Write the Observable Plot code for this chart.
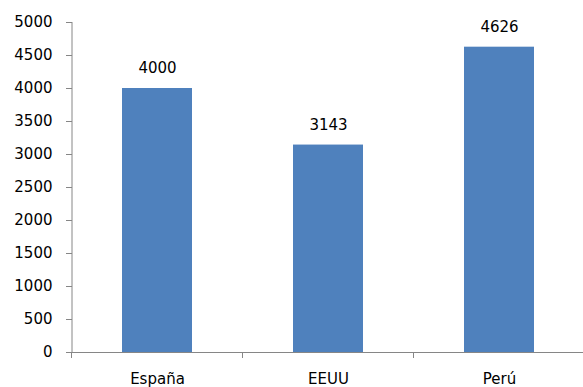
<!DOCTYPE html>
<html><head><meta charset="utf-8">
<script src="https://cdn.jsdelivr.net/npm/d3@7"></script>
<script src="https://cdn.jsdelivr.net/npm/@observablehq/plot@0.6"></script>
<style>body{margin:0;background:#fff} svg{display:block}</style>
</head><body><div id="chart"></div>
<script>
const categories = ["España", "EEUU", "Perú"];
const values = [4000, 3143, 4626];
const yTicks = [0, 500, 1000, 1500, 2000, 2500, 3000, 3500, 4000, 4500, 5000];

const data = categories.map((c, i) => ({cat: c, val: values[i]}));
const font = "DejaVu Sans";
const axisColor = "#868686";

const chart = Plot.plot({
  width: 583,
  height: 387,
  marginLeft: 72,
  marginTop: 22,
  marginBottom: 35,
  marginRight: 0,
  style: {fontFamily: font, fontSize: "15px", color: "#000", background: "#fff"},
  x: {domain: categories, range: [72, 585], paddingInner: 0.59, paddingOuter: 0.295, label: null},
  y: {domain: [0, 5000], label: null},
  marks: [
    Plot.barY(data, {x: "cat", y: "val", fill: "#4f81bd"}),
    Plot.text(data, {x: "cat", y: "val", text: d => String(d.val), dy: -20, fill: "#000", fontSize: 15}),
    Plot.axisY({ticks: yTicks, tickFormat: d => String(d), tickSize: 6, tickPadding: 14, stroke: axisColor, fill: "#000", label: null}),
    Plot.axisX({tickSize: 0, tickPadding: 21, fill: "#000", label: null}),
    Plot.ruleY([0], {stroke: axisColor})
  ]
});

const svg = d3.select(chart);
const sx = chart.scale("x");
const sy = chart.scale("y");
const y0 = sy.apply(0);
const yTop = sy.apply(5000);
const xLeft = sx.range[0];
svg.append("line").attr("x1", xLeft).attr("x2", xLeft).attr("y1", yTop).attr("y2", y0)
  .attr("stroke", axisColor);
categories.forEach(c => {
  const bx = sx.apply(c) + sx.bandwidth / 2 - sx.step / 2;
  svg.append("line").attr("x1", bx).attr("x2", bx).attr("y1", y0).attr("y2", y0 + 6)
    .attr("stroke", axisColor);
});
document.getElementById("chart").appendChild(chart);
</script>
</body></html>
